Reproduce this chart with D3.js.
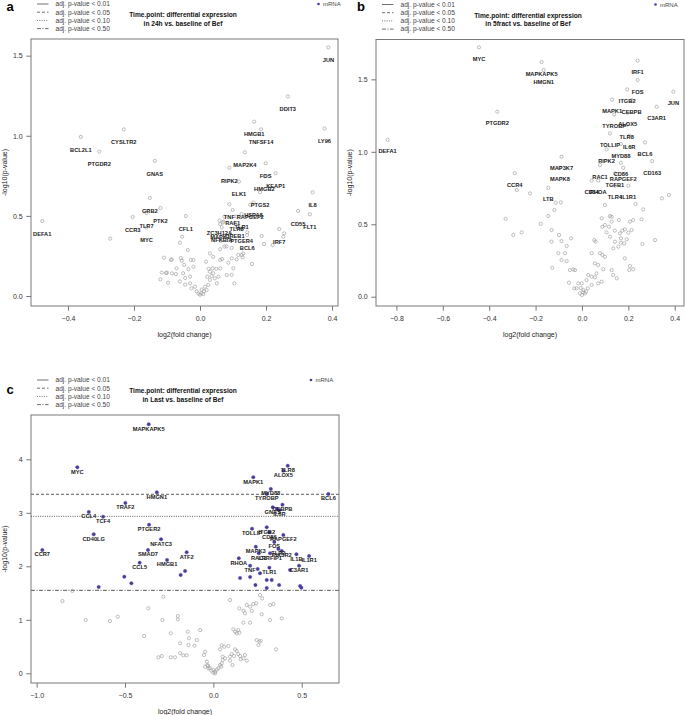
<!DOCTYPE html>
<html><head><meta charset="utf-8">
<script src="https://cdn.jsdelivr.net/npm/d3@7"></script>
<style>body{margin:0;background:#fff} svg{display:block;font-family:"Liberation Sans",Arial,Helvetica,sans-serif}</style>
</head><body>
<svg id="chart" width="685" height="715"></svg>
<script>
// ---------------- DATA ----------------
// Panel a: 24h vs Bef   (gene label, log2 fold change, -log10 p)
const aGene = ["JUN","DDIT3","HMGB1","TNFSF14","LY96","MAP2K4","FOS","RIPK2","KEAP1","HMGB2","ELK1","PTGS2","IL8","TNF","RAPGEF2","HSPA8","CD55","FLT1","CFL1","RAF1","TLR1","TLR8","ZC3H12A","MAPK1","CREB1","NFKBIA","PTGER4","BCL6","IRF7","GNAS","CYSLTR2","BCL2L1","PTGDR2","GRB2","PTK2","CCR3","DEFA1","TLR7","MYC"];
const aGeneFC = [0.389,0.266,0.164,0.185,0.377,0.136,0.199,0.089,0.229,0.195,0.118,0.182,0.341,0.089,0.152,0.162,0.297,0.333,-0.043,0.099,0.126,0.111,0.059,0.061,0.106,0.066,0.126,0.143,0.240,-0.137,-0.231,-0.361,-0.305,-0.152,-0.120,-0.204,-0.478,-0.162,-0.162];
const aGeneP = [1.552,1.246,1.088,1.040,1.046,0.897,0.828,0.800,0.766,0.748,0.714,0.648,0.647,0.572,0.570,0.584,0.531,0.510,0.499,0.537,0.511,0.496,0.471,0.449,0.452,0.428,0.421,0.380,0.418,0.843,1.040,0.993,0.901,0.612,0.549,0.493,0.468,0.517,0.428];
const aOtherFC = [-0.272,-0.109,-0.116,-0.100,-0.120,-0.097,-0.054,-0.061,-0.037,-0.086,-0.058,-0.055,-0.028,0.074,0.069,0.143,0.187,0.194,0.255,0.252,0.157,0.129,0.111,0.096,0.081,0.096,0.104,0.061,0.049,0.026,0.071,0.220,0.063,0.080,0.074,0.096,0.116,0.131,0.101,0.067,0.086,-0.088,-0.020,-0.103,-0.073,-0.071,-0.051,-0.035,-0.030,-0.045,-0.061,-0.045,-0.030,-0.026,-0.015,-0.010,0.000,0.004,0.010,0.020,0.025,0.030,0.035,0.040,0.038,0.045,0.051,0.056,0.061,0.030,0.022,0.015,-0.020,-0.048,-0.085,0.005,-0.005,0.012,0.126,0.061,0.030,0.040,0.018];
const aOtherP = [0.358,0.239,0.146,0.146,0.104,0.083,0.370,0.333,0.287,0.229,0.237,0.220,0.225,0.495,0.458,0.398,0.375,0.325,0.391,0.370,0.200,0.242,0.229,0.235,0.131,0.133,0.079,0.225,0.170,0.170,0.464,0.318,0.345,0.310,0.308,0.300,0.256,0.266,0.173,0.231,0.208,0.225,0.225,0.143,0.137,0.173,0.142,0.167,0.121,0.112,0.091,0.071,0.079,0.048,0.058,0.029,0.008,0.017,0.012,0.037,0.069,0.100,0.125,0.142,0.173,0.110,0.079,0.120,0.172,0.152,0.120,0.058,0.183,0.194,0.141,0.040,0.015,0.030,0.256,0.292,0.266,0.245,0.214];

// Panel b: 5fract vs Bef
const bGene = ["MYC","PTGDR2","DEFA1","CCR4","MAPKAPK5","HMGN1","IRF1","FOS","ITGB2","JUN","MAPK1","CEBPB","C3AR1","ALOX5","TYROBP","TLR8","TOLLIP","IL6R","BCL6","MYD88","RIPK2","MAP3K7","CD163","MAPK8","RAC1","CD86","RAPGEF2","TGFB1","CD14","RHOA","TLR4","IL1R1","LTB"];
const bGeneFC = [-0.444,-0.365,-0.838,-0.290,-0.174,-0.165,0.240,0.240,0.195,0.394,0.130,0.214,0.322,0.197,0.139,0.193,0.121,0.204,0.272,0.168,0.106,-0.088,0.303,-0.095,0.078,0.168,0.178,0.142,0.042,0.070,0.142,0.200,-0.145];
const bGeneP = [1.721,1.277,1.084,0.852,1.620,1.565,1.629,1.496,1.431,1.415,1.360,1.357,1.311,1.270,1.258,1.185,1.127,1.111,1.065,1.054,1.017,0.966,0.936,0.890,0.909,0.925,0.890,0.851,0.801,0.801,0.766,0.766,0.752];
const bOtherFC = [-0.329,-0.296,-0.281,-0.113,-0.091,-0.119,-0.224,-0.145,-0.178,-0.260,0.375,0.345,0.099,0.264,0.231,0.085,0.121,0.088,0.099,0.106,0.142,0.128,0.164,0.174,0.185,0.200,0.142,0.168,0.182,0.193,0.214,0.221,0.257,0.207,-0.131,-0.131,-0.099,-0.088,-0.066,-0.102,-0.073,-0.047,-0.088,-0.066,-0.052,-0.128,-0.037,-0.030,-0.056,-0.033,0.053,0.059,0.042,0.078,0.088,0.099,0.056,0.070,0.092,0.063,0.128,0.135,0.150,0.056,0.085,0.042,0.070,0.020,-0.001,0.006,-0.009,0.000,0.013,0.025,-0.016,-0.023,0.027,0.042,0.185,0.207,0.221,0.204,0.315,0.261,0.135,0.157,0.168,0.116,0.128,0.159,0.121,0.005,0.018,-0.005];
const bOtherP = [0.538,0.426,0.736,0.649,0.651,0.598,0.713,0.557,0.502,0.444,0.702,0.679,0.633,0.603,0.640,0.541,0.557,0.483,0.495,0.444,0.456,0.518,0.437,0.456,0.465,0.442,0.380,0.403,0.368,0.396,0.460,0.529,0.534,0.518,0.460,0.380,0.426,0.384,0.350,0.300,0.300,0.403,0.253,0.246,0.184,0.200,0.189,0.184,0.097,0.058,0.391,0.380,0.300,0.300,0.288,0.276,0.230,0.219,0.189,0.161,0.184,0.150,0.127,0.134,0.104,0.081,0.092,0.115,0.092,0.046,0.023,0.012,0.023,0.058,0.092,0.058,0.150,0.138,0.265,0.212,0.189,0.184,0.391,0.364,0.334,0.345,0.373,0.483,0.552,0.529,0.414,0.030,0.035,0.060];

// Panel c: Last vs Bef
const cGene = ["MAPKAPK5","MYC","HMGN1","TRAF2","CCL4","TCF4","PTGER2","CD40LG","NFATC3","CCR7","SMAD7","ATF2","HMGB1","CCL5","TLR8","ALOX5","MAPK1","MYD88","TYROBP","BCL6","CEBPB","GNAS","IL6R","TOLLIP","ITGB2","CD86","RAPGEF2","FOS","MAPK3","TLR2","RAC1","LRRFIP1","PIK3R2","IL1B","IL1R1","RHOA","TNF","TLR1","C3AR1"];
const cGeneFC = [-0.366,-0.770,-0.320,-0.498,-0.705,-0.624,-0.364,-0.677,-0.296,-0.968,-0.370,-0.151,-0.262,-0.417,0.421,0.396,0.226,0.325,0.302,0.651,0.391,0.336,0.374,0.219,0.302,0.317,0.396,0.345,0.240,0.368,0.257,0.321,0.387,0.470,0.542,0.144,0.208,0.317,0.485];
const cGeneP = [4.654,3.850,3.383,3.183,3.015,2.927,2.778,2.598,2.505,2.305,2.305,2.261,2.118,2.068,3.880,3.787,3.664,3.445,3.351,3.351,3.152,3.103,3.052,2.703,2.729,2.636,2.585,2.454,2.366,2.323,2.243,2.243,2.286,2.224,2.193,2.149,2.012,1.974,2.012];
const cOtherFC = [-0.160,-0.185,-0.504,-0.464,-0.649,0.359,0.251,0.264,0.434,0.151,0.208,0.302,0.330,0.238,0.302,0.372,0.491,0.498,
  -0.798,-0.854,-0.283,-0.368,-0.722,-0.585,-0.541,-0.289,-0.201,-0.201,-0.241,-0.392,-0.145,-0.075,-0.138,-0.094,-0.141,-0.107,-0.188,-0.047,-0.053,-0.170,-0.151,-0.311,-0.292,-0.241,-0.217,-0.188,-0.037,-0.034,-0.047,-0.028,0.000,0.010,0.028,0.038,0.047,0.053,0.038,0.085,0.094,0.000,0.010,0.094,0.264,0.276,0.189,0.208,0.226,0.242,0.321,0.340,0.147,0.170,0.179,0.217,0.274,0.387,0.321,0.170,0.208,0.141,0.113,0.123,0.132,0.147,0.047,0.061,0.245,0.261,0.268,0.255,0.123,0.132,0.355,0.104,0.117,0.141,0.151,0.155,0.170,0.179,0.189,0.053,0.066,0.094,0.044,0.108,-0.020,-0.012,0.020,-0.030];
const cOtherP = [1.912,1.838,1.806,1.682,1.613,3.071,1.950,1.869,1.931,1.781,1.800,1.744,1.744,1.650,1.594,1.650,1.632,1.600,
  1.540,1.351,1.432,1.215,0.996,0.978,1.058,0.996,1.071,1.009,0.748,0.697,0.778,0.809,0.654,0.622,0.529,0.516,0.561,0.404,0.342,0.336,0.336,0.299,0.323,0.299,0.299,0.374,0.217,0.155,0.123,0.093,0.062,0.030,0.093,0.155,0.187,0.310,0.449,0.510,0.310,0.011,0.000,1.370,1.463,1.400,1.277,1.245,1.295,1.308,1.277,1.295,1.215,1.170,1.121,1.165,1.103,1.028,0.996,0.946,0.946,0.809,0.822,0.778,0.748,0.759,0.523,0.497,0.622,0.591,0.609,0.529,0.449,0.417,0.449,0.361,0.323,0.361,0.323,0.262,0.280,0.342,0.236,0.249,0.280,0.236,0.123,0.155,0.100,0.050,0.070,0.140];

// significance thresholds (-log10 p corresponding to adj. p-value cut-offs), visible in panel c only
const cThreshLevel = ["0.05","0.10","0.50"];
const cThreshValue = [3.346, 2.934, 1.551];

const legendLevels = ["0.01","0.05","0.10","0.50"];
const aXTicks = [-0.4,-0.2,0.0,0.2,0.4], aYTicks = [0.0,0.5,1.0,1.5];
const bXTicks = [-0.8,-0.6,-0.4,-0.2,0.0,0.2,0.4], bYTicks = [0.0,0.5,1.0,1.5];
const cXTicks = [-1.0,-0.5,0.0,0.5], cYTicks = [0,1,2,3,4];
const titleLine1 = "Time.point: differential expression";
const aTitle2 = "in 24h vs. baseline of Bef";
const bTitle2 = "in 5fract vs. baseline of Bef";
const cTitle2 = "in Last vs. baseline of Bef";

// ---------------- DRAWING ----------------
const svg = d3.select("#chart");
const dashFor = {"0.01":null,"0.05":"3,2","0.10":"1,1.3","0.50":"4,1.5,1,1.5"};
const BLUE = "#4a3d9e";

function panel(cfg){
  const {box} = cfg;
  const x = d3.scaleLinear().domain(cfg.xDom).range([box.l, box.r]);
  const y = d3.scaleLinear().domain(cfg.yDom).range([box.b, box.t]);
  const g = svg.append("g");

  // threshold lines
  (cfg.thrLevel||[]).forEach((lv,i)=>{
    g.append("line").attr("x1",box.l).attr("x2",box.r)
      .attr("y1",y(cfg.thrValue[i])).attr("y2",y(cfg.thrValue[i]))
      .attr("stroke","#333").attr("stroke-width",0.8)
      .attr("stroke-dasharray",dashFor[lv]);
  });

  // axes
  const xa = g.append("g").attr("transform",`translate(0,${box.b})`)
    .call(d3.axisBottom(x).tickValues(cfg.xTicks).tickSize(4.7).tickPadding(5).tickFormat(d3.format(".1f")));
  const ya = g.append("g").attr("transform",`translate(${box.l},0)`)
    .call(d3.axisLeft(y).tickValues(cfg.yTicks).tickSize(4.7).tickPadding(3.6).tickFormat(d3.format(cfg.yFmt)));
  [xa,ya].forEach(a=>{
    a.select(".domain").remove();
    a.selectAll("line").attr("stroke","#555").attr("stroke-width",0.8);
    a.selectAll("text").attr("fill","#333").style("font-size","7px").style("font-family","'Liberation Sans',Arial,sans-serif");
  });
  g.append("rect").attr("x",box.l).attr("y",box.t).attr("width",box.r-box.l).attr("height",box.b-box.t)
    .attr("fill","none").attr("stroke","#6a6a6a").attr("stroke-width",0.9);

  // axis titles
  g.append("text").attr("x",(box.l+box.r)/2).attr("y",box.b+30.5).attr("text-anchor","middle")
    .style("font-size","7px").attr("fill","#222").text("log2(fold change)");
  g.append("text").attr("transform",`translate(${box.l-24.5},${(box.t+box.b)/2}) rotate(-90)`)
    .attr("text-anchor","middle").style("font-size","7px").attr("fill","#222").text("-log10(p-value)");

  // points
  const thr = cfg.sig;
  const others = cfg.oFC.map((v,i)=>({fc:v,p:cfg.oP[i],lab:""}));
  const genes = cfg.gene.map((s,i)=>({fc:cfg.gFC[i],p:cfg.gP[i],lab:s}));
  const all = others.concat(genes);
  const isSig = d => thr!=null && d.p > thr;
  g.append("g").selectAll("circle").data(all.filter(d=>!isSig(d))).join("circle")
    .attr("cx",d=>x(d.fc)).attr("cy",d=>y(d.p)).attr("r",1.6)
    .attr("fill","none").attr("stroke","#9c9c9c").attr("stroke-width",0.65);
  g.append("g").selectAll("circle").data(all.filter(isSig)).join("circle")
    .attr("cx",d=>x(d.fc)).attr("cy",d=>y(d.p)).attr("r",1.75)
    .attr("fill",BLUE).attr("stroke",BLUE).attr("stroke-width",0.3);
  // gene labels (placed 0.08 units below the point)
  g.append("g").selectAll("text").data(genes).join("text")
    .attr("x",d=>x(d.fc)).attr("y",d=>y(d.p-0.08)).attr("dy","0.35em")
    .attr("text-anchor","middle").style("font-size","5.7px").style("font-weight","bold")
    .attr("fill","#1a1a1a").text(d=>d.lab);

  // panel letter
  g.append("text").attr("x",cfg.letter[0]).attr("y",cfg.letter[1]).style("font-size","13px")
    .style("font-weight","bold").attr("fill","#000").text(cfg.id);

  // legend of thresholds
  const lx = box.l+6;
  legendLevels.forEach((lv,i)=>{
    const yy = box.t - 35 + i*8.2;
    g.append("line").attr("x1",lx).attr("x2",lx+11.5).attr("y1",yy).attr("y2",yy)
      .attr("stroke","#333").attr("stroke-width",0.7).attr("stroke-dasharray",dashFor[lv]);
    g.append("text").attr("x",lx+18.5).attr("y",yy).attr("dy","0.35em")
      .style("font-size","6.6px").attr("fill","#444").text(`adj. p-value < ${lv}`);
  });
  // title
  const tx = box.l + 152;
  g.append("text").attr("x",tx).attr("y",box.t-24).attr("dy","0.35em").attr("text-anchor","middle")
    .style("font-size","6.6px").style("font-weight","bold").attr("fill","#111").text(titleLine1);
  g.append("text").attr("x",tx).attr("y",box.t-15.7).attr("dy","0.35em").attr("text-anchor","middle")
    .style("font-size","6.6px").style("font-weight","bold").attr("fill","#111").text(cfg.title2);
  // mRNA legend
  g.append("circle").attr("cx",cfg.mx).attr("cy",box.t-35).attr("r",1.3).attr("fill",BLUE);
  g.append("text").attr("x",cfg.mx+4.5).attr("y",box.t-35).attr("dy","0.35em")
    .style("font-size","6px").attr("fill","#444").text("mRNA");
}

panel({id:"a", gene:aGene, gFC:aGeneFC, gP:aGeneP, oFC:aOtherFC, oP:aOtherP,
  box:{l:31,t:39,r:338,b:306}, xDom:[-0.512,0.418], yDom:[-0.0624,1.604],
  xTicks:aXTicks, yTicks:aYTicks, yFmt:".1f", title2:aTitle2, sig:null,
  letter:[6.5,10.7], mx:318.5});
panel({id:"b", gene:bGene, gFC:bGeneFC, gP:bGeneP, oFC:bOtherFC, oP:bOtherP,
  box:{l:376,t:39.5,r:684,b:306}, xDom:[-0.888,0.440], yDom:[-0.064,1.775],
  xTicks:bXTicks, yTicks:bYTicks, yFmt:".1f", title2:bTitle2, sig:null,
  letter:[357,10.7], mx:655.5});
panel({id:"c", gene:cGene, gFC:cGeneFC, gP:cGeneP, oFC:cOtherFC, oP:cOtherP,
  box:{l:31,t:415,r:339,b:683}, xDom:[-1.032,0.711], yDom:[-0.181,4.828],
  xTicks:cXTicks, yTicks:cYTicks, yFmt:"d", title2:cTitle2, sig:cThreshValue[2],
  thrLevel:cThreshLevel, thrValue:cThreshValue,
  letter:[6.5,394.3], mx:311});
</script>
</body></html>
